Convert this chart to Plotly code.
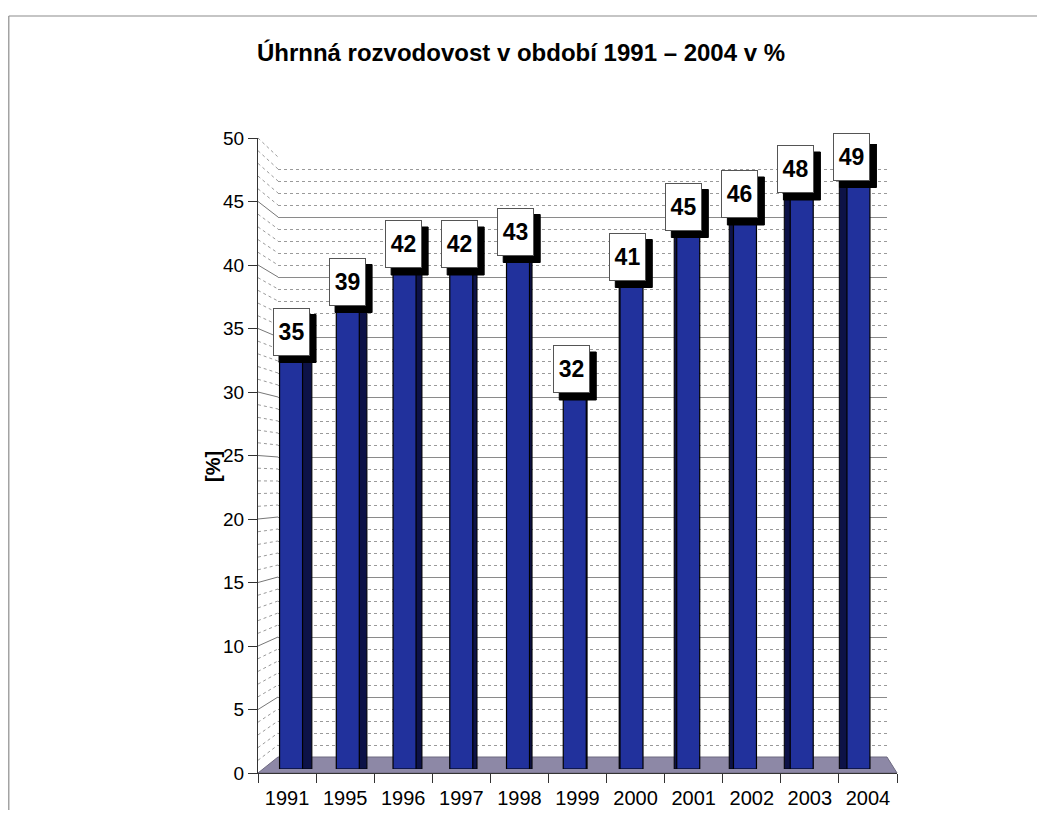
import plotly.graph_objects as go

# ---- data ----
years = ["1991", "1995", "1996", "1997", "1998", "1999", "2000", "2001", "2002", "2003", "2004"]
values = [35, 39, 42, 42, 43, 32, 41, 45, 46, 48, 49]
y_ticks = [0, 5, 10, 15, 20, 25, 30, 35, 40, 45, 50]
title_text = "Úhrnná rozvodovost v období 1991 – 2004 v %"
y_title = "[%]"

DX, DY = 8, 7   # page body offset compensation
W, H = 1045 - 2 * DX, 818 - 2 * DY - 2
def px(x):
    return (x - DX) / W
def py(y):
    return 1 - (y - DY) / H

FONT = "Liberation Sans, Arial, sans-serif"

# geometry (pixels in the reference picture)
AX_X = 258            # y-axis line
WALL_L, WALL_R = 278, 887
X_R = 897             # end of category axis
A0, A50 = 772, 137    # axis scale
B0, B50 = 768, 143    # bar-front scale
W0, W50 = 756, 156    # back wall scale
n = len(years)
cat_w = (X_R - AX_X) / n

def ay(v):
    return A0 - (A0 - A50) * v / 50.0
def wy(v):
    return W0 - (W0 - W50) * v / 50.0

# bar geometry in category units
front_w_px = 23
f_off, f_wid, s_off, s_wid, lab_shift = [], [], [], [], []
for i in range(n):
    shift = 4 - 1.35 * i
    f_off.append((shift - front_w_px / 2) / cat_w)
    f_wid.append(front_w_px / cat_w)
    s = 1.7 * abs(i - 5.5) + 1
    if i < 5.5:
        s_off.append((shift + front_w_px / 2 - 1) / cat_w)
    else:
        s_off.append((shift - front_w_px / 2 - s + 1) / cat_w)
    s_wid.append(s / cat_w)
    lab_shift.append(4.5 - 2.05 * i)

fig = go.Figure()

# subplot 1: back wall grid
fig.add_trace(go.Scatter(x=[0.5], y=[25], mode="markers", marker=dict(opacity=0),
                         xaxis="x", yaxis="y", hoverinfo="skip", showlegend=False))
# subplot 2: bars (side faces, then front faces)
fig.add_trace(go.Bar(x=years, y=values, offset=s_off, width=s_wid,
                     marker=dict(color="#0d1247", line=dict(color="black", width=1)),
                     xaxis="x2", yaxis="y2", showlegend=False, hoverinfo="skip"))
fig.add_trace(go.Bar(x=years, y=values, offset=f_off, width=f_wid,
                     marker=dict(color="#21319c", line=dict(color="black", width=1.2)),
                     xaxis="x2", yaxis="y2", showlegend=False))
# subplot 3: visible axes
fig.add_trace(go.Scatter(x=years, y=values, mode="markers", marker=dict(opacity=0),
                         xaxis="x3", yaxis="y3", hoverinfo="skip", showlegend=False))

shapes = []
# frame (top and left edges)
shapes.append(dict(type="line", xref="paper", yref="paper", x0=px(8.8), x1=1.05,
                   y0=py(15), y1=py(15), line=dict(color="#8c8c8c", width=1.2), layer="below"))
shapes.append(dict(type="line", xref="paper", yref="paper", x0=px(8.8), x1=px(8.8),
                   y0=-0.05, y1=py(15), line=dict(color="#8c8c8c", width=1.2), layer="below"))
# floor
floor_path = "M {} {} L {} {} L {} {} L {} {} Z".format(
    px(AX_X), py(A0), px(WALL_L), py(W0), px(WALL_R), py(W0), px(X_R), py(A0))
shapes.append(dict(type="path", xref="paper", yref="paper", path=floor_path,
                   fillcolor="#8d88a6", line=dict(color="#6e6a80", width=1), layer="below"))
# side-wall diagonals
for v in range(1, 51):
    major = (v % 5 == 0) and v != 50
    shapes.append(dict(type="line", xref="paper", yref="paper",
                       x0=px(AX_X), y0=py(ay(v)), x1=px(WALL_L), y1=py(wy(v)),
                       line=dict(color="#777777" if major else "#9a9a9a", width=1,
                                 dash="solid" if major else "dot"),
                       layer="below"))
# label shadows
BW, BH = 37, 48
for i, v in enumerate(values):
    cx = lab_shift[i] + 6
    shapes.append(dict(type="rect", xref="x2", yref="y2",
                       xsizemode="pixel", ysizemode="pixel", xanchor=i, yanchor=v,
                       x0=cx - BW / 2, x1=cx + BW / 2, y0=-7 - BH / 2, y1=-7 + BH / 2,
                       fillcolor="black", line=dict(color="black", width=1), layer="above"))

annotations = []
for i, v in enumerate(values):
    annotations.append(dict(x=i, y=v, xref="x2", yref="y2", text="<b>%d</b>" % v, showarrow=False,
                            xshift=lab_shift[i], yshift=0,
                            width=BW - 2, height=BH - 2, bgcolor="white", bordercolor="#555555",
                            borderwidth=1, borderpad=0,
                            font=dict(family=FONT, size=23, color="black")))
annotations.append(dict(x=px(213), y=py(466), xref="paper", yref="paper", text="<b>%s</b>" % y_title,
                        showarrow=False, textangle=-90, xanchor="center", yanchor="middle",
                        font=dict(family=FONT, size=20, color="black")))

fig.update_layout(
    width=W, height=H,
    margin=dict(l=0, r=0, t=0, b=0, autoexpand=False),
    paper_bgcolor="white", plot_bgcolor="rgba(0,0,0,0)",
    barmode="overlay",
    title=dict(text="<b>%s</b>" % title_text, x=px(521), xanchor="center", y=py(52), yanchor="middle",
               font=dict(family=FONT, size=24, color="black")),
    xaxis=dict(domain=[px(WALL_L), px(WALL_R)], range=[0, 1], visible=False, anchor="y"),
    yaxis=dict(domain=[py(W0), py(W50)], range=[0, 50], anchor="x",
               tickmode="array", tickvals=y_ticks[1:-1], showticklabels=False, ticks="",
               showline=False, zeroline=False, showgrid=True, gridcolor="#8a8a8a", gridwidth=1,
               minor=dict(dtick=1, tick0=0, showgrid=True, gridcolor="#9a9a9a",
                          griddash="dot", gridwidth=1)),
    xaxis2=dict(domain=[px(AX_X), px(X_R)], anchor="y2", type="category",
                range=[-0.5, n - 0.5], visible=False),
    yaxis2=dict(domain=[py(B0), py(B50)], anchor="x2", range=[0, 50], visible=False),
    xaxis3=dict(domain=[px(AX_X), px(X_R)], anchor="y3", type="category",
                range=[-0.5, n - 0.5], showline=True, linecolor="#333333", linewidth=1,
                ticks="outside", tickson="boundaries", ticklen=9, tickcolor="#333333",
                ticklabelstandoff=7,
                showgrid=False, zeroline=False, automargin=False,
                tickfont=dict(family=FONT, size=20, color="black")),
    yaxis3=dict(domain=[py(A0), py(A50)], anchor="x3", range=[0, 50],
                tickvals=y_ticks, showline=True, linecolor="#333333", linewidth=1,
                ticks="outside", ticklen=9, tickcolor="#333333", showgrid=False,
                zeroline=False, automargin=False,
                tickfont=dict(family=FONT, size=19, color="black")),
    shapes=shapes,
    annotations=annotations,
)

fig.write_html("out.html")
